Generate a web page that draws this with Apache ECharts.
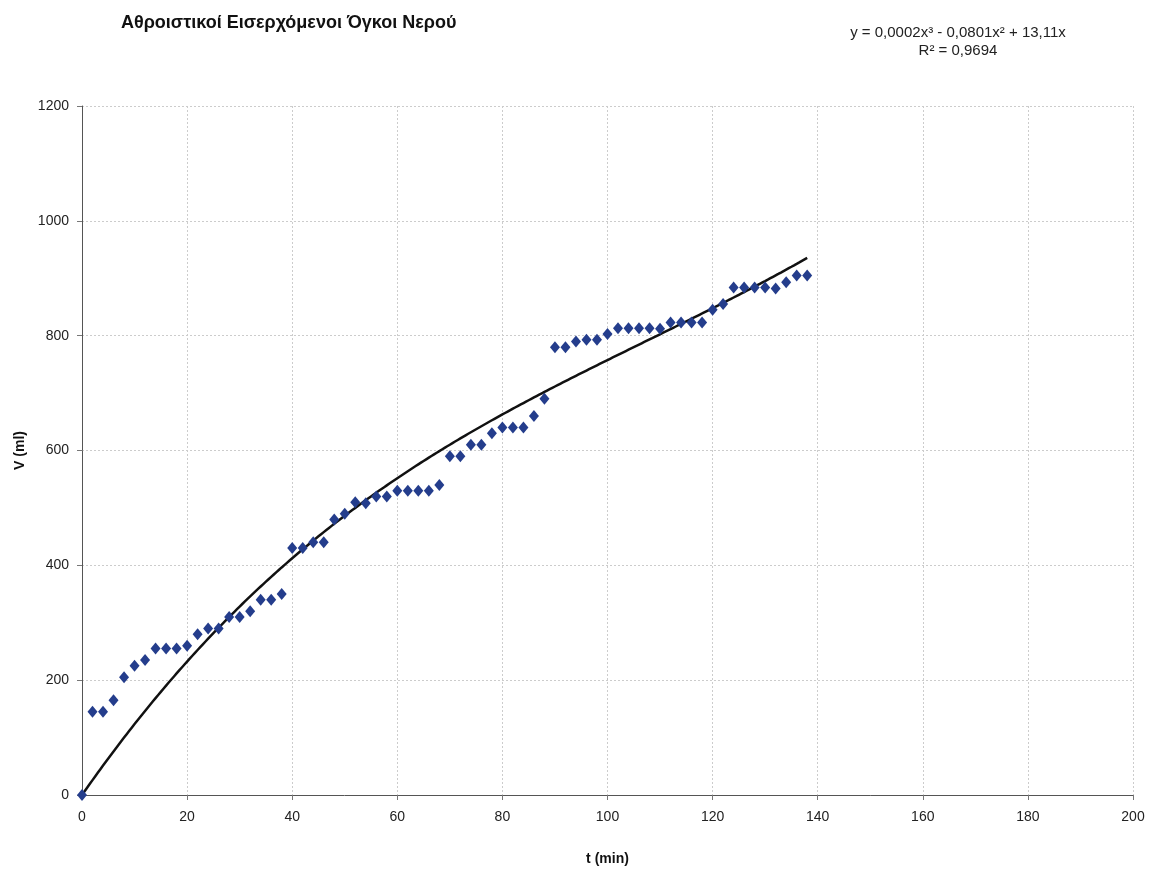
<!DOCTYPE html>
<html>
<head>
<meta charset="utf-8">
<title>Αθροιστικοί Εισερχόμενοι Όγκοι Νερού</title>
<script src="https://cdn.jsdelivr.net/npm/echarts@6/dist/echarts.min.js"></script>
<style>
  html, body { margin: 0; padding: 0; background: #ffffff; }
  #chart { width: 1149px; height: 871px; }
</style>
</head>
<body>
<div id="chart"></div>
<script>
// Cumulative inflow volume measurements: time (min) and volume (ml)
const timeMin = [
  0, 2, 4, 6, 8, 10, 12, 14, 16, 18, 20, 22, 24, 26, 28, 30, 32, 34, 36, 38,
  40, 42, 44, 46, 48, 50, 52, 54, 56, 58, 60, 62, 64, 66, 68, 70, 72, 74, 76, 78,
  80, 82, 84, 86, 88, 90, 92, 94, 96, 98, 100, 102, 104, 106, 108, 110, 112, 114, 116, 118,
  120, 122, 124, 126, 128, 130, 132, 134, 136, 138
];
const volumeMl = [
  0, 145, 145, 165, 205, 225, 235, 255, 255, 255, 260, 280, 290, 290, 310, 310, 320, 340, 340, 350,
  430, 430, 440, 440, 480, 490, 510, 508, 520, 520, 530, 530, 530, 530, 540, 590, 590, 610, 610, 630,
  640, 640, 640, 660, 690, 780, 780, 790, 793, 793, 803, 813, 813, 813, 813, 812, 823, 823, 823, 823,
  845, 855, 884, 884, 884, 884, 882, 893, 905, 905
];

const xTicks = [0, 20, 40, 60, 80, 100, 120, 140, 160, 180, 200];
const yTicks = [0, 200, 400, 600, 800, 1000, 1200];

const titleText = 'Αθροιστικοί Εισερχόμενοι Όγκοι Νερού';
const equationText = 'y = 0,0002x³ - 0,0801x² + 13,11x';
const rSquaredText = 'R² = 0,9694';
const xAxisName = 't (min)';
const yAxisName = 'V (ml)';

// Least-squares cubic through the origin: V = a t³ + b t² + c t
function fitCubicThroughOrigin(xs, ys) {
  const S = [[0, 0, 0], [0, 0, 0], [0, 0, 0]];
  const R = [0, 0, 0];
  for (let i = 0; i < xs.length; i++) {
    const f = [xs[i] ** 3, xs[i] ** 2, xs[i]];
    for (let r = 0; r < 3; r++) {
      R[r] += f[r] * ys[i];
      for (let c = 0; c < 3; c++) S[r][c] += f[r] * f[c];
    }
  }
  // Gaussian elimination
  const M = S.map((row, i) => row.concat([R[i]]));
  for (let p = 0; p < 3; p++) {
    for (let r = p + 1; r < 3; r++) {
      const k = M[r][p] / M[p][p];
      for (let c = p; c < 4; c++) M[r][c] -= k * M[p][c];
    }
  }
  const sol = [0, 0, 0];
  for (let r = 2; r >= 0; r--) {
    let s = M[r][3];
    for (let c = r + 1; c < 3; c++) s -= M[r][c] * sol[c];
    sol[r] = s / M[r][r];
  }
  return sol;
}

const coef = fitCubicThroughOrigin(timeMin, volumeMl);
const tMax = timeMin[timeMin.length - 1];
const trendPoints = [];
for (let k = 0; k <= 276; k++) {
  const t = tMax * k / 276;
  trendPoints.push([t, coef[0] * t ** 3 + coef[1] * t ** 2 + coef[2] * t]);
}

const measured = timeMin.map((t, i) => [t, volumeMl[i]]);

const chart = echarts.init(document.getElementById('chart'), null, { renderer: 'canvas' });
const fontFamily = '"Liberation Sans", Arial, sans-serif';

chart.setOption({
  backgroundColor: '#ffffff',
  animation: false,
  textStyle: { fontFamily: fontFamily },
  grid: { left: 82, right: 16, top: 106, bottom: 74, containLabel: false },
  graphic: [
    {
      type: 'text', left: 121, top: 14,
      style: { text: titleText, font: 'bold 18px ' + fontFamily, fill: '#111111' }
    },
    {
      type: 'text', x: 958, y: 24,
      style: {
        text: equationText + '\n' + rSquaredText,
        font: '15px ' + fontFamily, fill: '#222222',
        align: 'center', lineHeight: 18
      }
    }
  ],
  xAxis: {
    type: 'value',
    min: xTicks[0], max: xTicks[xTicks.length - 1], interval: 20,
    name: xAxisName, nameLocation: 'middle', nameGap: 57, nameMoveOverlap: false,
    nameTextStyle: { fontWeight: 'bold', fontSize: 14, color: '#111111' },
    axisLine: { show: true, onZero: false, lineStyle: { color: '#555555', width: 1 } },
    axisTick: { show: true, length: 5, lineStyle: { color: '#777777' } },
    axisLabel: { fontSize: 14, color: '#222222', margin: 15, formatter: v => String(v) },
    splitLine: { show: true, lineStyle: { color: '#cccccc', type: [2, 2], width: 1 } }
  },
  yAxis: {
    type: 'value',
    min: yTicks[0], max: yTicks[yTicks.length - 1], interval: 200,
    name: yAxisName, nameLocation: 'middle', nameGap: 55, nameRotate: 90, nameMoveOverlap: false,
    nameTextStyle: { fontWeight: 'bold', fontSize: 14, color: '#111111' },
    axisLine: { show: true, lineStyle: { color: '#555555', width: 1 } },
    axisTick: { show: true, length: 5, lineStyle: { color: '#777777' } },
    axisLabel: { fontSize: 14, color: '#222222', margin: 13, formatter: v => String(v) },
    splitLine: { show: true, lineStyle: { color: '#cccccc', type: [2, 2], width: 1 } }
  },
  series: [
    {
      name: 'Πολυωνυμική τάση',
      type: 'line',
      data: trendPoints,
      showSymbol: false,
      smooth: false,
      lineStyle: { color: '#111111', width: 2.5 },
      z: 3
    },
    {
      name: 'V (ml)',
      type: 'scatter',
      data: measured,
      symbol: 'diamond',
      symbolSize: [10, 12],
      itemStyle: { color: '#243d8c', opacity: 1 },
      z: 4
    }
  ]
});
</script>
</body>
</html>
